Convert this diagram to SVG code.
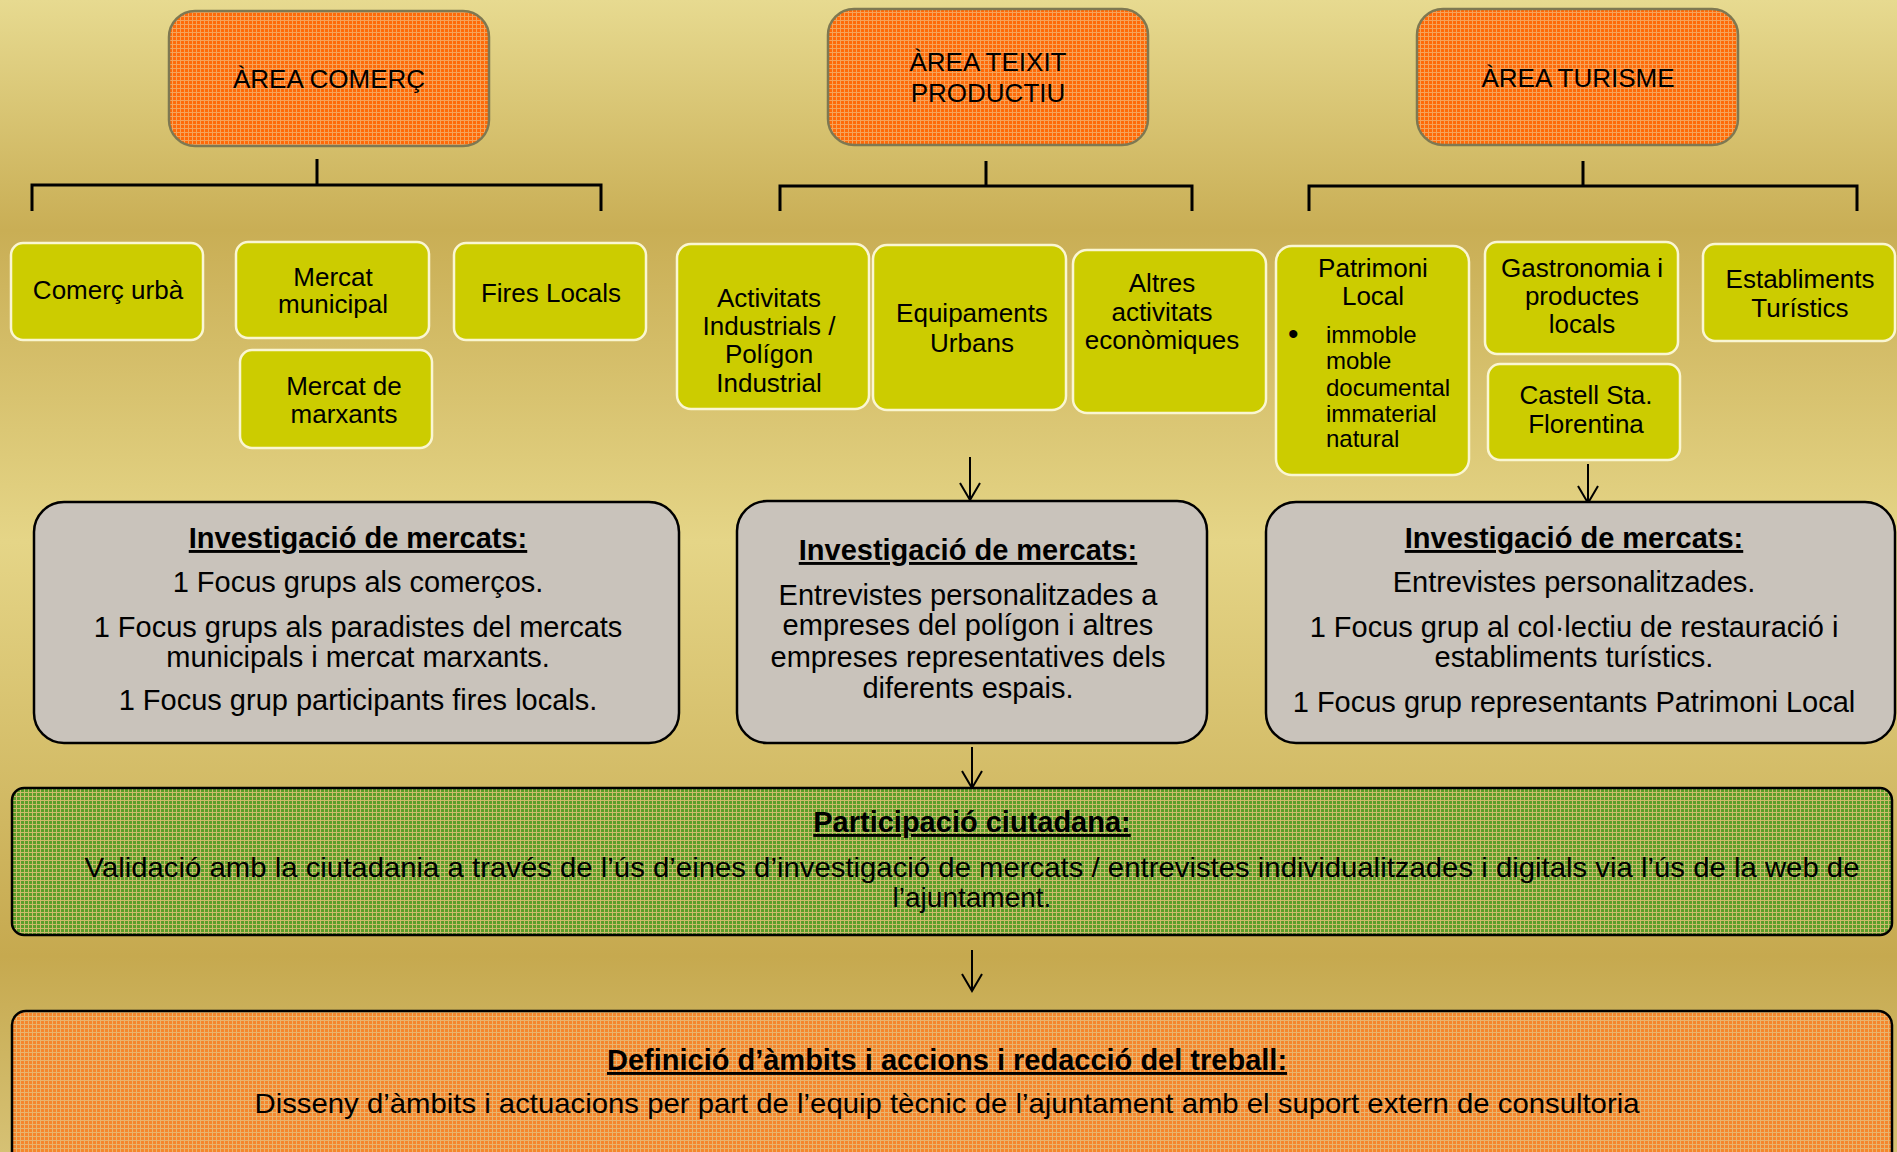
<svg xmlns="http://www.w3.org/2000/svg" width="1897" height="1152" viewBox="0 0 1897 1152">
<defs>
<linearGradient id="bg" x1="0" y1="0" x2="0" y2="1">
<stop offset="0" stop-color="#E7DA90"/>
<stop offset="0.2" stop-color="#C9AE55"/>
<stop offset="0.47" stop-color="#E5D587"/>
<stop offset="0.83" stop-color="#C6A94F"/>
<stop offset="1" stop-color="#D6C174"/>
</linearGradient>
<pattern id="pOrange" width="4" height="4" patternUnits="userSpaceOnUse">
<rect width="4" height="4" fill="#FF6A08"/>
<rect x="0" y="0" width="4" height="1" fill="#F5A35A"/>
<rect x="0" y="0" width="1" height="4" fill="#F5A35A"/>
</pattern>
<pattern id="pGreen" width="4" height="4" patternUnits="userSpaceOnUse">
<rect width="4" height="4" fill="#5C9E2A"/>
<rect x="0" y="0" width="4" height="1" fill="#CDBB6C"/>
<rect x="0" y="0" width="1" height="4" fill="#CDBB6C"/>
</pattern>
<pattern id="pOrange2" width="4" height="4" patternUnits="userSpaceOnUse">
<rect width="4" height="4" fill="#F5862C"/>
<rect x="0" y="0" width="4" height="1" fill="#E8B46E"/>
<rect x="0" y="0" width="1" height="4" fill="#E8B46E"/>
</pattern>
<marker id="arr" markerUnits="userSpaceOnUse" markerWidth="22" markerHeight="26" viewBox="-19 -13 22 26" refX="0" refY="0" orient="auto">
<path d="M-17,-10 L0,0 L-17,10" fill="none" stroke="#000" stroke-width="2"/>
</marker>
<style>
text{font-family:"Liberation Sans",Arial,sans-serif;fill:#000;text-anchor:middle}
.hdr{fill:url(#pOrange);stroke:#7E7852;stroke-width:2.5}
.sub{fill:#CCCC00;stroke:#FAF6D2;stroke-width:2.5}
.grey{fill:#C9C3BB;stroke:#000;stroke-width:2.5}
.t26{font-size:26px}
.t24{font-size:24px;text-anchor:start}
.t29{font-size:29px}
.t28{font-size:28px}
.b29{font-size:29px;font-weight:bold;text-decoration:underline}
.br{fill:none;stroke:#000;stroke-width:3}
.ar{fill:none;stroke:#000;stroke-width:2;marker-end:url(#arr)}
</style>
</defs>
<rect width="1897" height="1152" fill="url(#bg)"/>

<g id="connectors">
<path class="br" d="M317,159 V185 M32,211 V185 H601 V211"/>
<path class="br" d="M986,161 V186 M780,211 V186 H1192 V211"/>
<path class="br" d="M1583,161 V186 M1309,211 V186 H1857 V211"/>
<line class="ar" x1="970" y1="457" x2="970" y2="500"/>
<line class="ar" x1="1588" y1="464" x2="1588" y2="503"/>
<line class="ar" x1="972" y1="747" x2="972" y2="788"/>
<line class="ar" x1="972" y1="950" x2="972" y2="991"/>
</g>

<g id="area-comerc">
<rect class="hdr" x="169" y="11" width="320" height="135" rx="26"/>
<text class="t26" x="329" y="88">ÀREA COMERÇ</text>
</g>
<g id="area-teixit">
<rect class="hdr" x="828" y="9" width="320" height="136" rx="26"/>
<text class="t26" x="988" y="71">ÀREA TEIXIT</text>
<text class="t26" x="988" y="102">PRODUCTIU</text>
</g>
<g id="area-turisme">
<rect class="hdr" x="1417" y="9" width="321" height="136" rx="26"/>
<text class="t26" x="1578" y="87">ÀREA TURISME</text>
</g>

<g id="comerc-urba">
<rect class="sub" x="11" y="243" width="192" height="97" rx="12"/>
<text class="t26" x="108" y="299">Comerç urbà</text>
</g>
<g id="mercat-municipal">
<rect class="sub" x="236" y="242" width="193" height="96" rx="12"/>
<text class="t26" x="333" y="286">Mercat</text>
<text class="t26" x="333" y="313">municipal</text>
</g>
<g id="fires-locals">
<rect class="sub" x="454" y="243" width="192" height="97" rx="12"/>
<text class="t26" x="551" y="302">Fires Locals</text>
</g>
<g id="mercat-marxants">
<rect class="sub" x="240" y="350" width="192" height="98" rx="12"/>
<text class="t26" x="344" y="395">Mercat de</text>
<text class="t26" x="344" y="423">marxants</text>
</g>

<g id="activitats-industrials">
<rect class="sub" x="677" y="244" width="192" height="165" rx="14"/>
<text class="t26" x="769" y="307">Activitats</text>
<text class="t26" x="769" y="335">Industrials /</text>
<text class="t26" x="769" y="363">Polígon</text>
<text class="t26" x="769" y="392">Industrial</text>
</g>
<g id="equipaments-urbans">
<rect class="sub" x="873" y="245" width="193" height="165" rx="14"/>
<text class="t26" x="972" y="322">Equipaments</text>
<text class="t26" x="972" y="352">Urbans</text>
</g>
<g id="altres-activitats">
<rect class="sub" x="1073" y="250" width="193" height="163" rx="14"/>
<text class="t26" x="1162" y="292">Altres</text>
<text class="t26" x="1162" y="321">activitats</text>
<text class="t26" x="1162" y="349">econòmiques</text>
</g>

<g id="patrimoni-local">
<rect class="sub" x="1276" y="246" width="193" height="229" rx="16"/>
<text class="t26" x="1373" y="277">Patrimoni</text>
<text class="t26" x="1373" y="305">Local</text>
<text class="t24" x="1288" y="344" style="font-size:30px">•</text>
<text class="t24" x="1326" y="343">immoble</text>
<text class="t24" x="1326" y="369">moble</text>
<text class="t24" x="1326" y="396">documental</text>
<text class="t24" x="1326" y="422">immaterial</text>
<text class="t24" x="1326" y="447">natural</text>
</g>
<g id="gastronomia">
<rect class="sub" x="1485" y="242" width="193" height="112" rx="12"/>
<text class="t26" x="1582" y="277">Gastronomia i</text>
<text class="t26" x="1582" y="305">productes</text>
<text class="t26" x="1582" y="333">locals</text>
</g>
<g id="castell">
<rect class="sub" x="1488" y="364" width="192" height="96" rx="12"/>
<text class="t26" x="1586" y="404">Castell Sta.</text>
<text class="t26" x="1586" y="433">Florentina</text>
</g>
<g id="establiments">
<rect class="sub" x="1703" y="244" width="192" height="97" rx="12"/>
<text class="t26" x="1800" y="288">Establiments</text>
<text class="t26" x="1800" y="317">Turístics</text>
</g>

<g id="inv-comerc">
<rect class="grey" x="34" y="502" width="645" height="241" rx="30"/>
<text class="b29" x="358" y="548">Investigació de mercats:</text>
<text class="t29" x="358" y="592">1 Focus grups als comerços.</text>
<text class="t29" x="358" y="637">1 Focus grups als paradistes del mercats</text>
<text class="t29" x="358" y="667">municipals i mercat marxants.</text>
<text class="t29" x="358" y="710">1 Focus grup participants fires locals.</text>
</g>
<g id="inv-teixit">
<rect class="grey" x="737" y="501" width="470" height="242" rx="30"/>
<text class="b29" x="968" y="560">Investigació de mercats:</text>
<text class="t29" x="968" y="605">Entrevistes personalitzades a</text>
<text class="t29" x="968" y="635">empreses del polígon i altres</text>
<text class="t29" x="968" y="667">empreses representatives dels</text>
<text class="t29" x="968" y="698">diferents espais.</text>
</g>
<g id="inv-turisme">
<rect class="grey" x="1266" y="502" width="629" height="241" rx="30"/>
<text class="b29" x="1574" y="548">Investigació de mercats:</text>
<text class="t29" x="1574" y="592">Entrevistes personalitzades.</text>
<text class="t29" x="1574" y="637">1 Focus grup al col·lectiu de restauració i</text>
<text class="t29" x="1574" y="667">establiments turístics.</text>
<text class="t29" x="1574" y="712">1 Focus grup representants Patrimoni Local</text>
</g>

<g id="participacio">
<rect x="12" y="788" width="1880" height="147" rx="12" fill="url(#pGreen)" stroke="#000" stroke-width="2.5"/>
<text class="b29" x="972" y="832">Participació ciutadana:</text>
<text class="t28" x="972" y="877" textLength="1775" lengthAdjust="spacingAndGlyphs">Validació amb la ciutadania a través de l’ús d’eines d’investigació de mercats / entrevistes individualitzades i digitals via l’ús de la web de</text>
<text class="t28" x="972" y="907">l’ajuntament.</text>
</g>
<g id="definicio">
<rect x="12" y="1011" width="1880" height="170" rx="14" fill="url(#pOrange2)" stroke="#000" stroke-width="2.5"/>
<text class="b29" x="947" y="1070">Definició d’àmbits i accions i redacció del treball:</text>
<text class="t28" x="947" y="1113" textLength="1385" lengthAdjust="spacingAndGlyphs">Disseny d’àmbits i actuacions per part de l’equip tècnic de l’ajuntament amb el suport extern de consultoria</text>
</g>
</svg>
